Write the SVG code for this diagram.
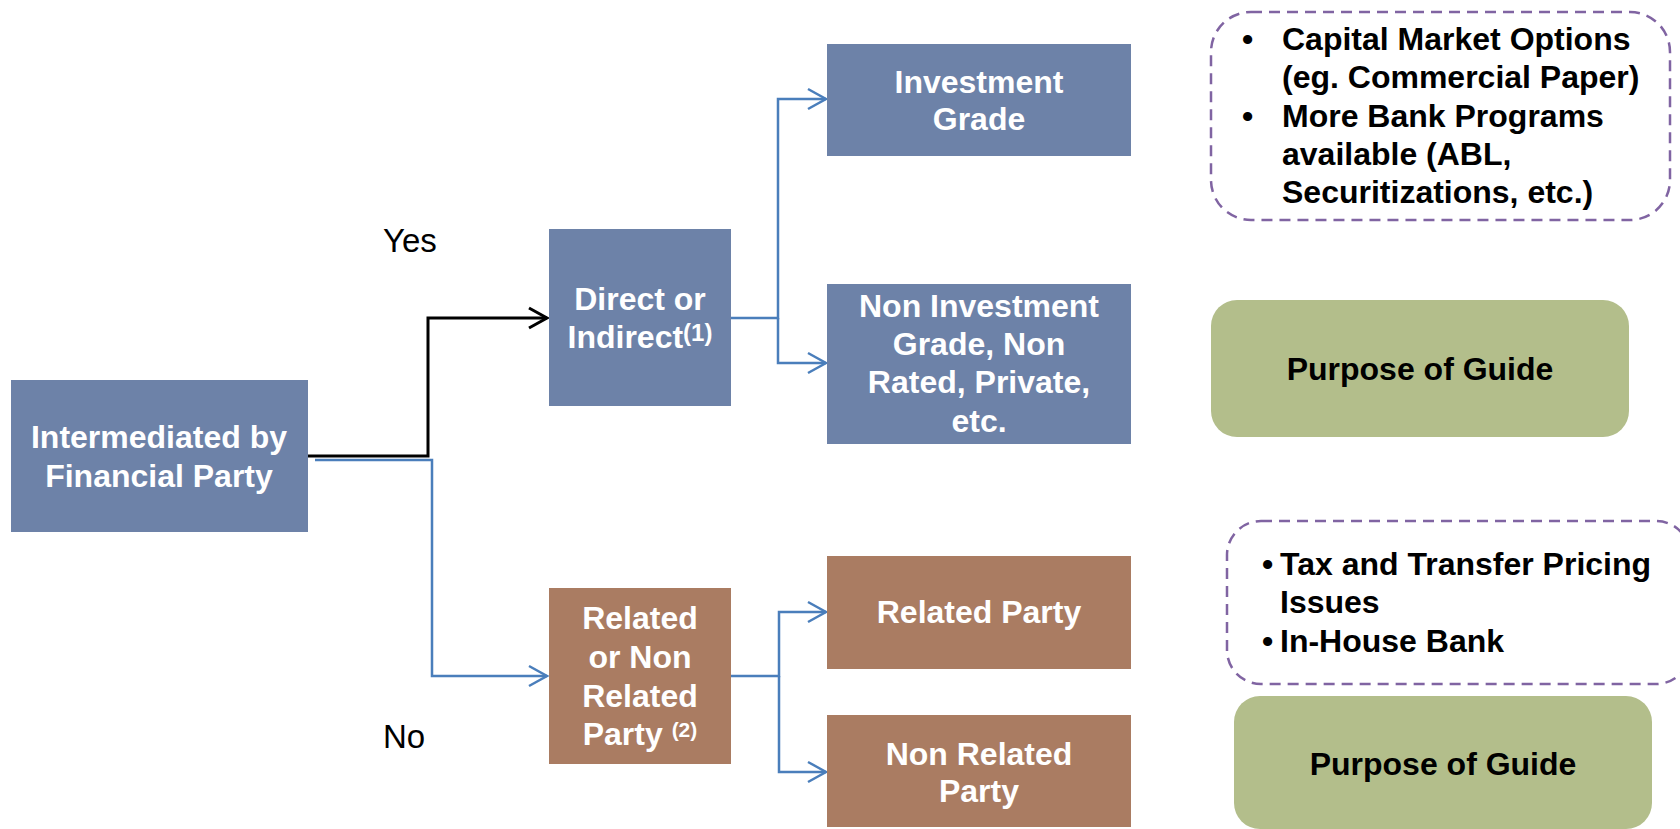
<svg xmlns="http://www.w3.org/2000/svg" width="1680" height="829" viewBox="0 0 1680 829">
  <defs>
    <style>
      .blue { fill: #6D82A8; }
      .brown { fill: #AA7C62; }
      .green { fill: #B3BE8B; }
      .dash { fill: #FFFFFF; stroke: #8064A2; stroke-width: 2.5; stroke-dasharray: 11 7; }
      .wt { font-family: "Liberation Sans", Arial, sans-serif; font-size: 32px; font-weight: bold; fill: #FFFFFF; text-anchor: middle; }
      .bt { font-family: "Liberation Sans", Arial, sans-serif; font-size: 32px; font-weight: bold; fill: #000000; }
      .lbl { font-family: "Liberation Sans", Arial, sans-serif; font-size: 33px; fill: #000000; }
      .sup1 { font-size: 24px; }
      .sup2 { font-size: 21px; }
      .link { fill: none; stroke: #4A7EBB; stroke-width: 2.5; }
      .link-k { fill: none; stroke: #000000; stroke-width: 3; }
    </style>
    <marker id="arrowBlue" markerUnits="userSpaceOnUse" markerWidth="24" markerHeight="26" refX="20" refY="12" orient="auto" overflow="visible">
      <path d="M 2 2 L 20 12 L 2 22" fill="none" stroke="#4A7EBB" stroke-width="2.5"/>
    </marker>
    <marker id="arrowBlack" markerUnits="userSpaceOnUse" markerWidth="24" markerHeight="26" refX="20" refY="12" orient="auto" overflow="visible">
      <path d="M 2 2 L 20 12 L 2 22" fill="none" stroke="#000000" stroke-width="3"/>
    </marker>
  </defs>

  <rect width="1680" height="829" fill="#FFFFFF"/>

  <!-- connectors -->
  <g id="connectors">
    <path class="link" d="M 315 460 H 432 V 676 H 547" marker-end="url(#arrowBlue)"/>
    <path class="link-k" d="M 308 456 H 428 V 318 H 547" marker-end="url(#arrowBlack)"/>
    <path class="link" d="M 731 318 H 778 V 99 H 826" marker-end="url(#arrowBlue)"/>
    <path class="link" d="M 778 318 V 363 H 826" marker-end="url(#arrowBlue)"/>
    <path class="link" d="M 731 676 H 779 V 612 H 826" marker-end="url(#arrowBlue)"/>
    <path class="link" d="M 779 676 V 772 H 826" marker-end="url(#arrowBlue)"/>
    <text class="lbl" x="383" y="252">Yes</text>
    <text class="lbl" x="383" y="748">No</text>
  </g>

  <!-- root decision -->
  <g id="node-intermediated">
    <rect class="blue" x="11" y="380" width="297" height="152"/>
    <text class="wt" x="159" y="448">Intermediated by</text>
    <text class="wt" x="159" y="487">Financial Party</text>
  </g>

  <!-- upper branch -->
  <g id="node-direct">
    <rect class="blue" x="549" y="229" width="182" height="177"/>
    <text class="wt" x="640" y="310">Direct or</text>
    <text class="wt" x="640" y="348">Indirect<tspan class="sup1" dy="-7">(1)</tspan></text>
  </g>

  <g id="node-investment-grade">
    <rect class="blue" x="827" y="44" width="304" height="112"/>
    <text class="wt" x="979" y="93">Investment</text>
    <text class="wt" x="979" y="130">Grade</text>
  </g>

  <g id="node-non-investment">
    <rect class="blue" x="827" y="284" width="304" height="160"/>
    <text class="wt" x="979" y="317">Non Investment</text>
    <text class="wt" x="979" y="355">Grade, Non</text>
    <text class="wt" x="979" y="393">Rated, Private,</text>
    <text class="wt" x="979" y="432">etc.</text>
  </g>

  <!-- lower branch -->
  <g id="node-related-or-non">
    <rect class="brown" x="549" y="588" width="182" height="176"/>
    <text class="wt" x="640" y="629">Related</text>
    <text class="wt" x="640" y="668">or Non</text>
    <text class="wt" x="640" y="707">Related</text>
    <text class="wt" x="640" y="745">Party <tspan class="sup2" dy="-8">(2)</tspan></text>
  </g>

  <g id="node-related-party">
    <rect class="brown" x="827" y="556" width="304" height="113"/>
    <text class="wt" x="979" y="623">Related Party</text>
  </g>

  <g id="node-non-related-party">
    <rect class="brown" x="827" y="715" width="304" height="112"/>
    <text class="wt" x="979" y="765">Non Related</text>
    <text class="wt" x="979" y="802">Party</text>
  </g>

  <!-- notes -->
  <g id="note-capital-markets">
    <rect class="dash" x="1211" y="12" width="459" height="208" rx="40" ry="40"/>
    <text class="bt" x="1242" y="50">•</text>
    <text class="bt" x="1282" y="50">Capital Market Options</text>
    <text class="bt" x="1282" y="88">(eg. Commercial Paper)</text>
    <text class="bt" x="1242" y="127">•</text>
    <text class="bt" x="1282" y="127">More Bank Programs</text>
    <text class="bt" x="1282" y="165">available (ABL,</text>
    <text class="bt" x="1282" y="203">Securitizations, etc.)</text>
  </g>

  <g id="guide-upper">
    <rect class="green" x="1211" y="300" width="418" height="137" rx="26" ry="26"/>
    <text class="bt" x="1420" y="380" text-anchor="middle">Purpose of Guide</text>
  </g>

  <g id="note-tax">
    <rect class="dash" x="1227" y="521" width="463" height="163" rx="34" ry="34"/>
    <text class="bt" x="1262" y="575">•</text>
    <text class="bt" x="1280" y="575">Tax and Transfer Pricing</text>
    <text class="bt" x="1280" y="613">Issues</text>
    <text class="bt" x="1262" y="652">•</text>
    <text class="bt" x="1280" y="652">In-House Bank</text>
  </g>

  <g id="guide-lower">
    <rect class="green" x="1234" y="696" width="418" height="133" rx="26" ry="26"/>
    <text class="bt" x="1443" y="775" text-anchor="middle">Purpose of Guide</text>
  </g>
</svg>
